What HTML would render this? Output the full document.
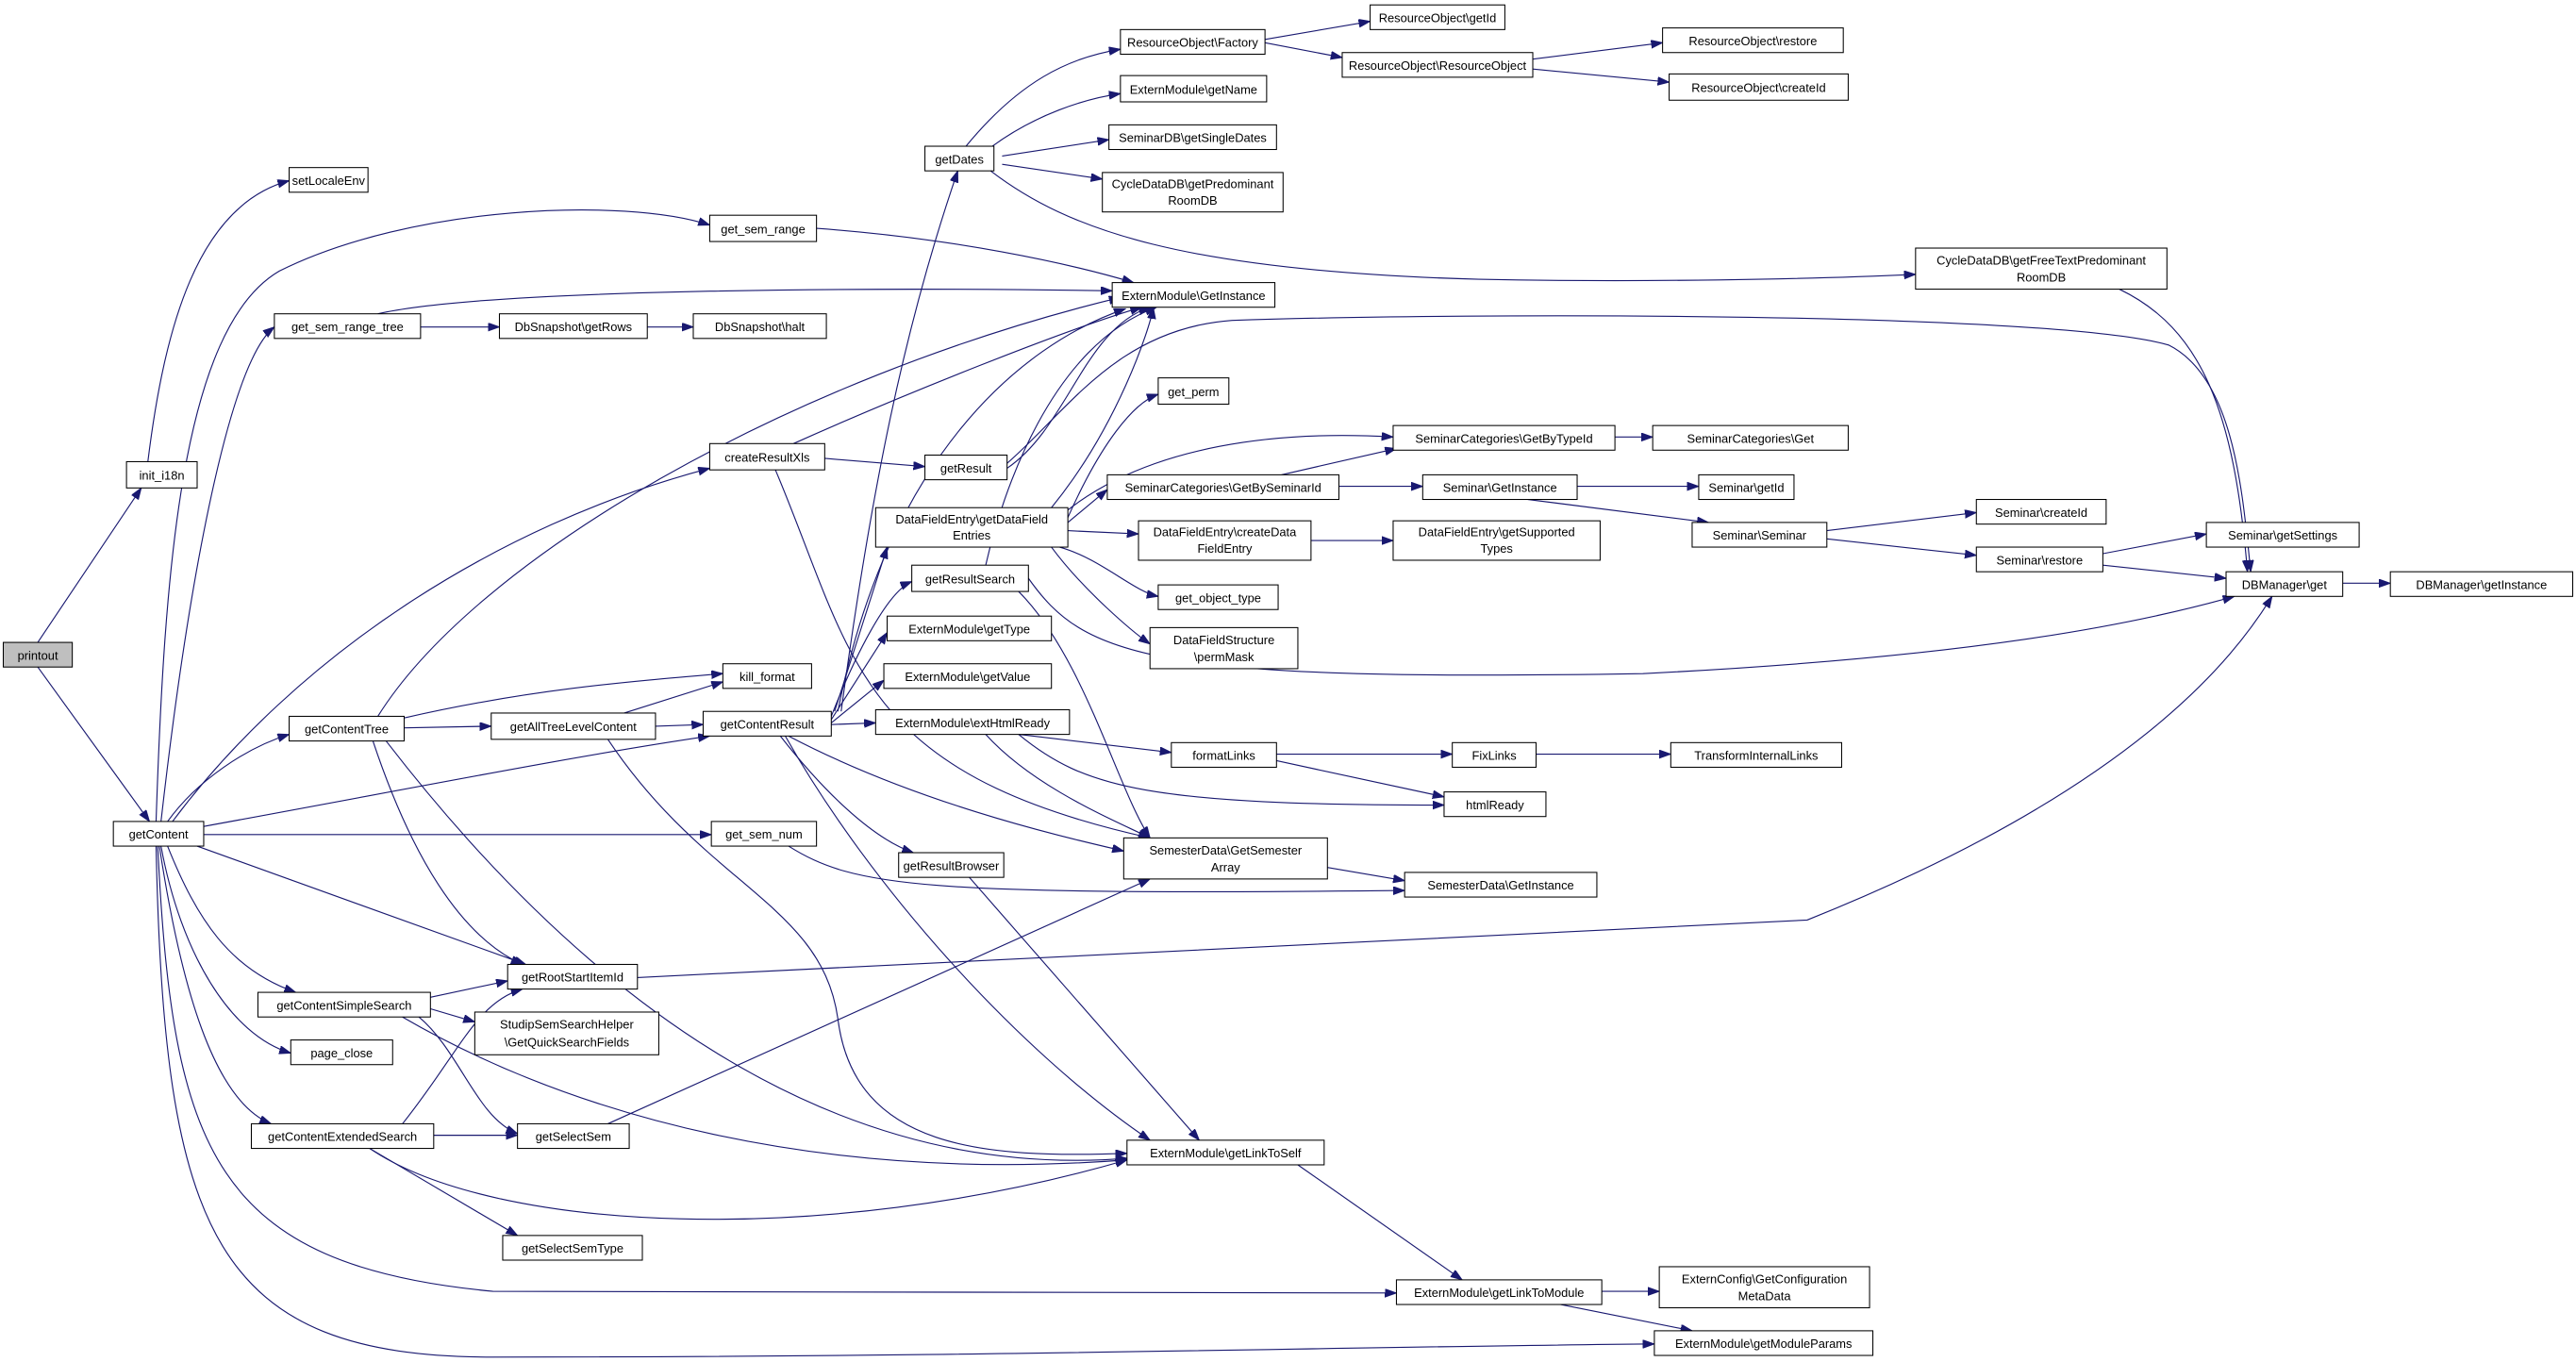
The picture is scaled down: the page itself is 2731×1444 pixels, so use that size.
<!DOCTYPE html>
<html><head><meta charset="utf-8"><style>
html,body{margin:0;padding:0;background:#fff;}
svg{display:block;}
text{font-family:"Liberation Sans","DejaVu Sans",sans-serif;font-size:7.4px;fill:#000;text-anchor:middle;}
.n{fill:#fff;stroke:#000;stroke-width:0.6;}
.e{fill:none;stroke:#191970;stroke-width:0.65;marker-end:url(#a);}
</style></head><body>
<svg width="2731" height="1444" viewBox="0 0 1568 829" preserveAspectRatio="none" xmlns="http://www.w3.org/2000/svg">
<defs><marker id="a" markerUnits="userSpaceOnUse" markerWidth="8" markerHeight="6" refX="7" refY="2.5" orient="auto"><path d="M0,0 L7,2.5 L0,5 z" fill="#191970" stroke="#191970" stroke-width="0.5"/></marker></defs>
<g>
<path class="e" d="M23,391 L86,297"/>
<path class="e" d="M23,406 L91,500"/>
<path class="e" d="M90,281 C100,200 120,125 176,110"/>
<path class="e" d="M95,500 C100,350 110,200 170,165 C250,125 380,120 432,137"/>
<path class="e" d="M98,500 C115,350 140,220 167,199"/>
<path class="e" d="M256,199 L304,199"/>
<path class="e" d="M394,199 L422,199"/>
<path class="e" d="M230,191 C300,175 550,175 677,177"/>
<path class="e" d="M497,139 C580,145 650,160 690,172"/>
<path class="e" d="M105,500 C180,400 300,320 432,285"/>
<path class="e" d="M102,500 C120,475 150,455 176,447"/>
<path class="e" d="M124,503 C250,480 350,460 432,448"/>
<path class="e" d="M124,508 L433,508"/>
<path class="e" d="M120,515 L320,587"/>
<path class="e" d="M102,515 C120,560 140,590 180,604"/>
<path class="e" d="M98,515 C110,580 140,630 177,641"/>
<path class="e" d="M97,515 C110,600 130,670 165,684"/>
<path class="e" d="M96,515 C105,700 130,770 300,786 L850,787"/>
<path class="e" d="M95,515 C100,750 130,826 300,826 C600,826 800,820 1007,818"/>
<path class="e" d="M230,436 C290,340 480,230 682,181"/>
<path class="e" d="M246,437 C320,420 380,415 440,410"/>
<path class="e" d="M246,443 L299,442"/>
<path class="e" d="M227,451 C250,520 280,570 318,587"/>
<path class="e" d="M235,451 C350,600 500,720 686,705"/>
<path class="e" d="M380,434 L440,415"/>
<path class="e" d="M399,442 L428,441"/>
<path class="e" d="M370,450 C430,540 500,550 510,620 C520,700 600,705 686,702"/>
<path class="e" d="M502,279 L563,284"/>
<path class="e" d="M483,270 C550,240 650,200 695,187"/>
<path class="e" d="M472,286 C520,400 520,470 700,510"/>
<path class="e" d="M613,285 C650,260 660,200 700,187"/>
<path class="e" d="M613,282 C650,250 680,200 750,195 C900,190 1250,190 1320,210 C1360,230 1365,300 1370,348"/>
<path class="e" d="M512,433 C530,300 550,200 583,104"/>
<path class="e" d="M508,433 L540,333"/>
<path class="e" d="M506,436 C520,400 540,360 555,354"/>
<path class="e" d="M506,438 L540,385"/>
<path class="e" d="M506,440 L538,414"/>
<path class="e" d="M506,441 L533,440"/>
<path class="e" d="M510,433 C540,280 620,210 685,188"/>
<path class="e" d="M475,448 C500,480 530,510 556,519"/>
<path class="e" d="M480,448 C560,490 650,510 684,518"/>
<path class="e" d="M478,448 C530,540 620,640 700,694"/>
<path class="e" d="M588,89 C620,50 650,35 682,30"/>
<path class="e" d="M604,89 C630,70 660,60 682,57"/>
<path class="e" d="M610,95 L675,85"/>
<path class="e" d="M610,100 L671,109"/>
<path class="e" d="M603,104 C650,140 720,165 900,170 C1000,172 1100,170 1166,167"/>
<path class="e" d="M770,24 L834,13"/>
<path class="e" d="M770,26 L817,35"/>
<path class="e" d="M933,36 L1012,26"/>
<path class="e" d="M933,42 L1016,50"/>
<path class="e" d="M1290,176 C1340,200 1360,250 1368,348"/>
<path class="e" d="M650,315 C670,270 690,245 705,240"/>
<path class="e" d="M648,312 C700,270 780,262 848,266"/>
<path class="e" d="M650,318 L674,298"/>
<path class="e" d="M650,323 L693,325"/>
<path class="e" d="M645,333 C670,340 690,360 705,363"/>
<path class="e" d="M640,333 C660,360 690,385 700,392"/>
<path class="e" d="M640,309 C680,260 700,200 702,187"/>
<path class="e" d="M626,352 C660,400 700,415 1000,410 C1200,400 1300,380 1360,363"/>
<path class="e" d="M600,344 C610,300 640,210 704,187"/>
<path class="e" d="M620,360 C660,400 680,480 700,510"/>
<path class="e" d="M780,289 L850,273"/>
<path class="e" d="M815,296 L866,296"/>
<path class="e" d="M983,266 L1006,266"/>
<path class="e" d="M960,296 L1034,296"/>
<path class="e" d="M930,304 L1040,318"/>
<path class="e" d="M798,329 L848,329"/>
<path class="e" d="M1112,323 L1203,312"/>
<path class="e" d="M1112,328 L1203,338"/>
<path class="e" d="M1280,337 L1343,325"/>
<path class="e" d="M1280,344 L1355,352"/>
<path class="e" d="M1426,355 L1455,355"/>
<path class="e" d="M620,447 L713,458"/>
<path class="e" d="M620,447 C660,480 700,490 879,490"/>
<path class="e" d="M600,447 C630,480 680,500 700,510"/>
<path class="e" d="M777,459 L884,459"/>
<path class="e" d="M777,463 L879,485"/>
<path class="e" d="M935,459 L1017,459"/>
<path class="e" d="M808,528 L855,536"/>
<path class="e" d="M480,515 C520,540 560,545 855,542"/>
<path class="e" d="M590,534 L730,694"/>
<path class="e" d="M388,595 L1100,560 C1300,480 1360,400 1383,363"/>
<path class="e" d="M262,607 L309,597"/>
<path class="e" d="M262,614 L289,622"/>
<path class="e" d="M255,619 C280,640 290,680 315,690"/>
<path class="e" d="M245,619 C350,680 500,720 686,706"/>
<path class="e" d="M245,684 C280,640 290,610 318,602"/>
<path class="e" d="M264,691 L315,691"/>
<path class="e" d="M225,699 L315,752"/>
<path class="e" d="M225,699 C300,750 500,760 686,706"/>
<path class="e" d="M370,684 L700,535"/>
<path class="e" d="M790,709 L890,779"/>
<path class="e" d="M975,786 L1010,786"/>
<path class="e" d="M950,794 L1030,810"/>
</g>
<g>
<rect x="2" y="391" width="42" height="15" style="fill:#bfbfbf;stroke:#000;stroke-width:0.6"/><text x="23" y="401.5">printout</text>
<rect class="n" x="69" y="500" width="55" height="15"/><text x="96.5" y="510.5">getContent</text>
<rect class="n" x="77" y="281" width="43" height="16"/><text x="98.5" y="292">init_i18n</text>
<rect class="n" x="176" y="102" width="48" height="15"/><text x="200" y="112.5">setLocaleEnv</text>
<rect class="n" x="432" y="131" width="65" height="16"/><text x="464.5" y="142">get_sem_range</text>
<rect class="n" x="167" y="191" width="89" height="15"/><text x="211.5" y="201.5">get_sem_range_tree</text>
<rect class="n" x="304" y="191" width="90" height="15"/><text x="349" y="201.5">DbSnapshot\getRows</text>
<rect class="n" x="422" y="191" width="81" height="15"/><text x="462.5" y="201.5">DbSnapshot\halt</text>
<rect class="n" x="432" y="270" width="70" height="16"/><text x="467" y="281">createResultXls</text>
<rect class="n" x="563" y="277" width="50" height="15"/><text x="588" y="287.5">getResult</text>
<rect class="n" x="176" y="436" width="70" height="15"/><text x="211" y="446.5">getContentTree</text>
<rect class="n" x="440" y="404" width="54" height="15"/><text x="467" y="414.5">kill_format</text>
<rect class="n" x="299" y="434" width="100" height="16"/><text x="349" y="445">getAllTreeLevelContent</text>
<rect class="n" x="428" y="433" width="78" height="15"/><text x="467" y="443.5">getContentResult</text>
<rect class="n" x="433" y="500" width="64" height="15"/><text x="465" y="510.5">get_sem_num</text>
<rect class="n" x="309" y="587" width="79" height="15"/><text x="348.5" y="597.5">getRootStartItemId</text>
<rect class="n" x="157" y="604" width="105" height="15"/><text x="209.5" y="614.5">getContentSimpleSearch</text>
<rect class="n" x="289" y="616" width="112" height="26"/><text x="345" y="626">StudipSemSearchHelper</text><text x="345" y="637">\GetQuickSearchFields</text>
<rect class="n" x="177" y="633" width="62" height="15"/><text x="208" y="643.5">page_close</text>
<rect class="n" x="153" y="684" width="111" height="15"/><text x="208.5" y="694.5">getContentExtendedSearch</text>
<rect class="n" x="315" y="684" width="68" height="15"/><text x="349" y="694.5">getSelectSem</text>
<rect class="n" x="306" y="752" width="85" height="15"/><text x="348.5" y="762.5">getSelectSemType</text>
<rect class="n" x="563" y="89" width="42" height="15"/><text x="584" y="99.5">getDates</text>
<rect class="n" x="682" y="18" width="88" height="15"/><text x="726" y="28.5">ResourceObject\Factory</text>
<rect class="n" x="834" y="3" width="82" height="15"/><text x="875" y="13.5">ResourceObject\getId</text>
<rect class="n" x="817" y="32" width="116" height="15"/><text x="875" y="42.5">ResourceObject\ResourceObject</text>
<rect class="n" x="1012" y="17" width="110" height="15"/><text x="1067" y="27.5">ResourceObject\restore</text>
<rect class="n" x="1016" y="45" width="109" height="16"/><text x="1070.5" y="56">ResourceObject\createId</text>
<rect class="n" x="682" y="46" width="89" height="16"/><text x="726.5" y="57">ExternModule\getName</text>
<rect class="n" x="675" y="76" width="102" height="15"/><text x="726" y="86.5">SeminarDB\getSingleDates</text>
<rect class="n" x="671" y="105" width="110" height="24"/><text x="726" y="114.5">CycleDataDB\getPredominant</text><text x="726" y="124.5">RoomDB</text>
<rect class="n" x="677" y="172" width="99" height="15"/><text x="726.5" y="182.5">ExternModule\GetInstance</text>
<rect class="n" x="705" y="230" width="43" height="16"/><text x="726.5" y="241">get_perm</text>
<rect class="n" x="1166" y="151" width="153" height="25"/><text x="1242.5" y="161">CycleDataDB\getFreeTextPredominant</text><text x="1242.5" y="171.5">RoomDB</text>
<rect class="n" x="533" y="309" width="117" height="24"/><text x="591.5" y="318.5">DataFieldEntry\getDataField</text><text x="591.5" y="328.5">Entries</text>
<rect class="n" x="848" y="259" width="135" height="15"/><text x="915.5" y="269.5">SeminarCategories\GetByTypeId</text>
<rect class="n" x="1006" y="259" width="119" height="15"/><text x="1065.5" y="269.5">SeminarCategories\Get</text>
<rect class="n" x="674" y="289" width="141" height="15"/><text x="744.5" y="299.5">SeminarCategories\GetBySeminarId</text>
<rect class="n" x="866" y="289" width="94" height="15"/><text x="913" y="299.5">Seminar\GetInstance</text>
<rect class="n" x="1034" y="289" width="58" height="15"/><text x="1063" y="299.5">Seminar\getId</text>
<rect class="n" x="693" y="317" width="105" height="24"/><text x="745.5" y="326.5">DataFieldEntry\createData</text><text x="745.5" y="336.5">FieldEntry</text>
<rect class="n" x="848" y="317" width="126" height="24"/><text x="911" y="326.5">DataFieldEntry\getSupported</text><text x="911" y="336.5">Types</text>
<rect class="n" x="1030" y="318" width="82" height="15"/><text x="1071" y="328.5">Seminar\Seminar</text>
<rect class="n" x="1203" y="304" width="79" height="15"/><text x="1242.5" y="314.5">Seminar\createId</text>
<rect class="n" x="1203" y="333" width="77" height="15"/><text x="1241.5" y="343.5">Seminar\restore</text>
<rect class="n" x="1343" y="318" width="93" height="15"/><text x="1389.5" y="328.5">Seminar\getSettings</text>
<rect class="n" x="1355" y="348" width="71" height="15"/><text x="1390.5" y="358.5">DBManager\get</text>
<rect class="n" x="1455" y="348" width="111" height="15"/><text x="1510.5" y="358.5">DBManager\getInstance</text>
<rect class="n" x="555" y="344" width="71" height="16"/><text x="590.5" y="355">getResultSearch</text>
<rect class="n" x="705" y="356" width="73" height="15"/><text x="741.5" y="366.5">get_object_type</text>
<rect class="n" x="540" y="375" width="100" height="15"/><text x="590" y="385.5">ExternModule\getType</text>
<rect class="n" x="700" y="382" width="90" height="25"/><text x="745" y="392">DataFieldStructure</text><text x="745" y="402.5">\permMask</text>
<rect class="n" x="538" y="404" width="102" height="15"/><text x="589" y="414.5">ExternModule\getValue</text>
<rect class="n" x="533" y="432" width="118" height="15"/><text x="592" y="442.5">ExternModule\extHtmlReady</text>
<rect class="n" x="713" y="452" width="64" height="15"/><text x="745" y="462.5">formatLinks</text>
<rect class="n" x="884" y="452" width="51" height="15"/><text x="909.5" y="462.5">FixLinks</text>
<rect class="n" x="1017" y="452" width="104" height="15"/><text x="1069" y="462.5">TransformInternalLinks</text>
<rect class="n" x="879" y="482" width="62" height="15"/><text x="910" y="492.5">htmlReady</text>
<rect class="n" x="684" y="510" width="124" height="25"/><text x="746" y="520">SemesterData\GetSemester</text><text x="746" y="530.5">Array</text>
<rect class="n" x="855" y="531" width="117" height="15"/><text x="913.5" y="541.5">SemesterData\GetInstance</text>
<rect class="n" x="547" y="519" width="64" height="15"/><text x="579" y="529.5">getResultBrowser</text>
<rect class="n" x="686" y="694" width="120" height="15"/><text x="746" y="704.5">ExternModule\getLinkToSelf</text>
<rect class="n" x="850" y="779" width="125" height="15"/><text x="912.5" y="789.5">ExternModule\getLinkToModule</text>
<rect class="n" x="1010" y="771" width="128" height="25"/><text x="1074" y="781">ExternConfig\GetConfiguration</text><text x="1074" y="791.5">MetaData</text>
<rect class="n" x="1007" y="810" width="133" height="15"/><text x="1073.5" y="820.5">ExternModule\getModuleParams</text>
</g>
</svg>
</body></html>
